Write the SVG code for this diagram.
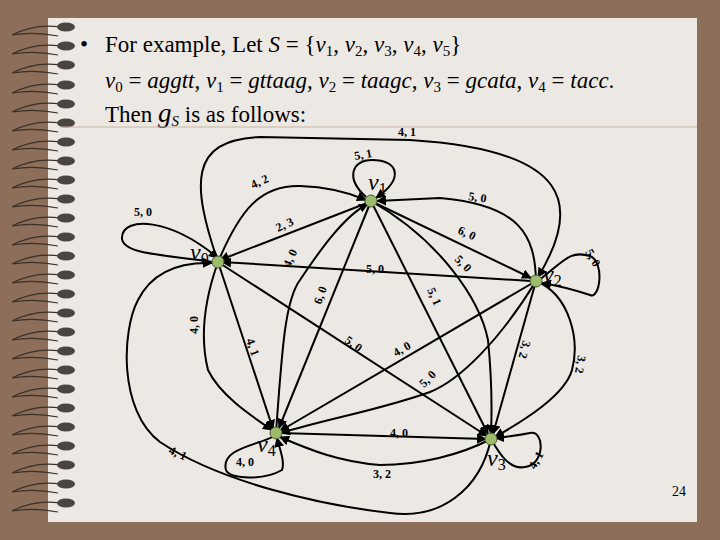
<svg xmlns="http://www.w3.org/2000/svg" width="720" height="540" viewBox="0 0 720 540">
<defs>
<style>
.t{font-family:"Liberation Serif",serif;font-size:23px;fill:#000}
.i{font-style:italic}
.e{fill:none;stroke:#000;stroke-width:2}
.a{marker-end:url(#ar)}
.l{font-family:"Liberation Serif",serif;font-size:12px;font-weight:bold;fill:#000}
.n{fill:#9cbc6c;stroke:#4a5a30;stroke-width:1}
.nl{font-family:"Liberation Serif",serif;font-size:24px;font-style:italic}
.sp{fill:none;stroke:#3a3028;stroke-width:1.2}
</style>
<marker id="ar" viewBox="0 0 10 10" refX="9" refY="5" markerWidth="5" markerHeight="5" orient="auto"><path d="M0,0L10,5L0,10z" fill="#000"/></marker>
<g id="ring"><path class="sp" d="M60,0 C40,-3 22,3 12,8 C30,5 48,7 58,9"/><ellipse cx="66" cy="0" rx="9" ry="4.5" fill="#4a4540"/></g>
</defs>
<rect width="720" height="540" fill="#8d6e5b"/>
<rect x="48" y="18" width="649" height="504" fill="#ece8e3"/>
<g id="spiral">
<use href="#ring" y="27"/><use href="#ring" y="46"/><use href="#ring" y="65"/><use href="#ring" y="85"/><use href="#ring" y="104"/><use href="#ring" y="123"/><use href="#ring" y="142"/><use href="#ring" y="161"/><use href="#ring" y="180"/><use href="#ring" y="199"/><use href="#ring" y="218"/><use href="#ring" y="237"/><use href="#ring" y="256"/><use href="#ring" y="275"/><use href="#ring" y="294"/><use href="#ring" y="313"/><use href="#ring" y="332"/><use href="#ring" y="351"/><use href="#ring" y="370"/><use href="#ring" y="389"/><use href="#ring" y="408"/><use href="#ring" y="427"/><use href="#ring" y="446"/><use href="#ring" y="465"/><use href="#ring" y="484"/><use href="#ring" y="503"/>
</g>
<g id="title">
<text class="t" x="80" y="52">•</text>
<text class="t" x="105" y="52">For example,  Let <tspan class="i">S</tspan> = {<tspan class="i">v</tspan><tspan font-size="15" dy="4">1</tspan><tspan dy="-4">, </tspan><tspan class="i">v</tspan><tspan font-size="15" dy="4">2</tspan><tspan dy="-4">, </tspan><tspan class="i">v</tspan><tspan font-size="15" dy="4">3</tspan><tspan dy="-4">, </tspan><tspan class="i">v</tspan><tspan font-size="15" dy="4">4</tspan><tspan dy="-4">, </tspan><tspan class="i">v</tspan><tspan font-size="15" dy="4">5</tspan><tspan dy="-4">}</tspan></text>
<text class="t" x="105" y="88"><tspan class="i">v</tspan><tspan font-size="15" dy="4">0</tspan><tspan dy="-4"> = </tspan><tspan class="i">aggtt</tspan>, <tspan class="i">v</tspan><tspan font-size="15" dy="4">1</tspan><tspan dy="-4"> = </tspan><tspan class="i">gttaag</tspan>, <tspan class="i">v</tspan><tspan font-size="15" dy="4">2</tspan><tspan dy="-4"> = </tspan><tspan class="i">taagc</tspan>, <tspan class="i">v</tspan><tspan font-size="15" dy="4">3</tspan><tspan dy="-4"> = </tspan><tspan class="i">gcata</tspan>, <tspan class="i">v</tspan><tspan font-size="15" dy="4">4</tspan><tspan dy="-4"> = </tspan><tspan class="i">tacc</tspan>.</text>
<text class="t" x="105" y="122">Then <tspan class="i" font-size="27">g</tspan><tspan class="i" font-size="15" dy="4">S</tspan><tspan dy="-4"> is as follows:</tspan></text>
<line x1="60" y1="127" x2="697" y2="127" stroke="#c8b8a0" stroke-width="1"/>
<text x="672" y="496" font-family="Liberation Serif,serif" font-size="14">24</text>
</g>
<g id="connectors">
<path class="e a" d="M218,262 C192,185 188,140 260,137 L410,140 C572,150 582,205 538,277"/>
<path class="e a" d="M366,197 C345,178 352,160 372,160 C398,160 405,178 376,198"/>
<path class="e a" d="M218,262 C240,210 260,185 300,186 C330,187 350,193 366,200"/>
<path class="e a" d="M536,281 C535,235 520,205 440,198 L377,201"/>
<path class="e a" d="M212,262 C170,255 120,255 122,237 C124,216 170,218 218,258"/>
<path class="e a" d="M367,203 L220,260"/>
<path class="e a" d="M375,203 L531,278"/>
<path class="e a" d="M538,281 C565,260 570,250 590,256 C605,262 600,300 590,295 C575,290 560,286 542,283"/>
<path class="e a" d="M531,281 L222,262"/>
<path class="e a" d="M276,433 C282,350 285,300 300,280 C320,250 345,215 368,204"/>
<path class="e a" d="M371,201 L279,428"/>
<path class="e a" d="M371,201 C440,240 480,300 488,340 C492,380 492,410 491,434"/>
<path class="e a" d="M371,201 L488,434"/>
<path class="e a" d="M536,281 L493,434"/>
<path class="e a" d="M536,281 C570,295 580,340 572,370 C565,395 525,420 495,437"/>
<path class="e a" d="M218,262 C208,290 198,330 208,370 C220,395 250,415 272,430"/>
<path class="e a" d="M218,262 L273,429"/>
<path class="e a" d="M218,262 L487,436"/>
<path class="e a" d="M536,281 L280,431"/>
<path class="e a" d="M536,281 C500,340 460,380 430,392 C380,410 330,418 281,433"/>
<path class="e a" d="M280,433 L486,439"/>
<path class="e a" d="M491,439 C460,455 420,465 380,465 C340,462 310,450 280,437"/>
<path class="e a" d="M274,436 C260,445 220,448 226,470 C230,480 265,480 282,470 C285,462 280,450 277,438"/>
<path class="e a" d="M491,439 C500,455 510,470 525,467 C545,465 545,430 530,433 C515,436 505,437 495,438"/>
<path class="e a" d="M491,439 C480,490 440,520 390,513 C320,505 220,482 160,442 C118,410 122,330 138,300 C152,272 180,262 212,263"/>
</g>
<g id="labels">
<text class="l" x="398" y="136">4, 1</text>
<text class="l" x="355" y="160" transform="rotate(-10 355 160)">5, 1</text>
<text class="l" x="253" y="189" transform="rotate(-25 253 189)">4, 2</text>
<text class="l" x="468" y="200" transform="rotate(8 468 200)">5, 0</text>
<text class="l" x="134" y="216">5, 0</text>
<text class="l" x="278" y="232" transform="rotate(-25 278 232)">2, 3</text>
<text class="l" x="457" y="233" transform="rotate(25 457 233)">6, 0</text>
<text class="l" x="585" y="252" transform="rotate(60 585 252)">5, 0</text>
<text class="l" x="366" y="273">5, 0</text>
<text class="l" x="290" y="268" transform="rotate(-65 290 268)">4, 0</text>
<text class="l" x="321" y="305" transform="rotate(-70 321 305)">6, 0</text>
<text class="l" x="454" y="260" transform="rotate(45 454 260)">5, 0</text>
<text class="l" x="427" y="290" transform="rotate(65 427 290)">5, 1</text>
<text class="l" x="523" y="340" transform="rotate(105 523 340)">3, 2</text>
<text class="l" x="578" y="355" transform="rotate(100 578 355)">3, 2</text>
<text class="l" x="198" y="334" transform="rotate(-90 198 334)">4, 0</text>
<text class="l" x="246" y="340" transform="rotate(70 246 340)">4, 1</text>
<text class="l" x="344" y="342" transform="rotate(35 344 342)">5, 0</text>
<text class="l" x="396" y="357" transform="rotate(-30 396 357)">4, 0</text>
<text class="l" x="424" y="388" transform="rotate(-45 424 388)">5, 0</text>
<text class="l" x="390" y="437">4, 0</text>
<text class="l" x="373" y="478">3, 2</text>
<text class="l" x="236" y="466">4, 0</text>
<text class="l" x="535" y="470" transform="rotate(-60 535 470)">4, 1</text>
<text class="l" x="168" y="453" transform="rotate(25 168 453)">4, 1</text>
</g>
<g id="v0"><circle class="n" cx="218" cy="262" r="6"/><text class="nl" x="190" y="260">v<tspan font-size="16" font-style="normal" dy="4">0</tspan></text></g>
<g id="v1"><circle class="n" cx="371" cy="201" r="6"/><text class="nl" x="368" y="190">v<tspan font-size="16" font-style="normal" dy="4">1</tspan></text></g>
<g id="v2"><circle class="n" cx="536" cy="281" r="6"/><text class="nl" x="543" y="282">v<tspan font-size="16" font-style="normal" dy="4">2</tspan></text></g>
<g id="v3"><circle class="n" cx="491" cy="439" r="6"/><text class="nl" x="487" y="466">v<tspan font-size="16" font-style="normal" dy="4">3</tspan></text></g>
<g id="v4"><circle class="n" cx="276" cy="433" r="6"/><text class="nl" x="257" y="452">v<tspan font-size="16" font-style="normal" dy="4">4</tspan></text></g>
</svg>
